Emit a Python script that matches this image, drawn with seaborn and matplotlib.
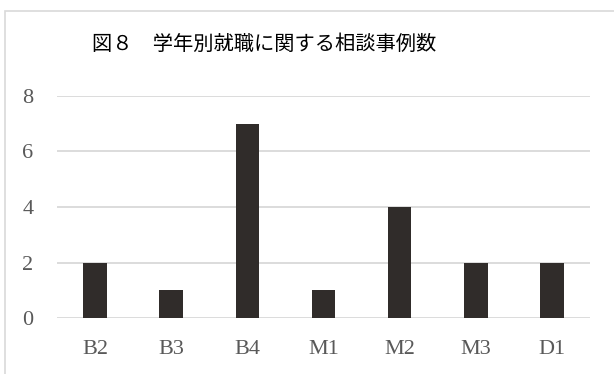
import matplotlib
matplotlib.use("Agg")
import matplotlib.pyplot as plt
import matplotlib.patches as patches
import seaborn as sns
import pandas as pd

categories = ["B2", "B3", "B4", "M1", "M2", "M3", "D1"]
values = [2, 1, 7, 1, 4, 2, 2]
yticks = [0, 2, 4, 6, 8]
title = "図８　学年別就職に関する相談事例数"

sns.set_theme(style="white")
plt.rcParams['font.family'] = ['Noto Sans CJK JP', 'DejaVu Sans']

W, H = 614, 374
fig = plt.figure(figsize=(W / 100, H / 100), dpi=100)
ax = fig.add_axes([57 / W, 56 / H, (590 - 57) / W, (318 - 96) / H])

df = pd.DataFrame({"cat": categories, "val": values})
sns.barplot(data=df, x="cat", y="val", ax=ax, color="#302c2a",
            saturation=1, width=0.31, linewidth=0)

ax.set_ylim(0, 8)
ax.set_xlim(-0.5, len(categories) - 0.5)
ax.set_yticks(yticks)
ax.set_yticklabels([str(t) for t in yticks])
ax.set_xlabel("")
ax.set_ylabel("")
ax.yaxis.grid(True, color="#d9d9d9", linewidth=1.3)
ax.set_axisbelow(True)
for s in ax.spines.values():
    s.set_visible(False)
ax.tick_params(axis="both", length=0)
ax.tick_params(axis="x", pad=16)
ax.tick_params(axis="y", pad=17)
for lab in ax.get_xticklabels() + ax.get_yticklabels():
    lab.set_fontfamily("Liberation Serif")
    lab.set_fontsize(16)
    lab.set_color("#595959")

fig.text(264.5 / W, 1 - 44 / H, title, ha="center", va="center",
         fontsize=14.6, color="#000000",
         family=['Noto Sans CJK JP', 'DejaVu Sans'])

border = patches.Rectangle((4.5 / W, -0.2), 1.2, (H - 10.5) / H + 0.2,
                           transform=fig.transFigure, fill=False,
                           edgecolor="#d9d9d9", linewidth=1.2, clip_on=False)
fig.patches.append(border)

fig.savefig("out.png", dpi=100)
